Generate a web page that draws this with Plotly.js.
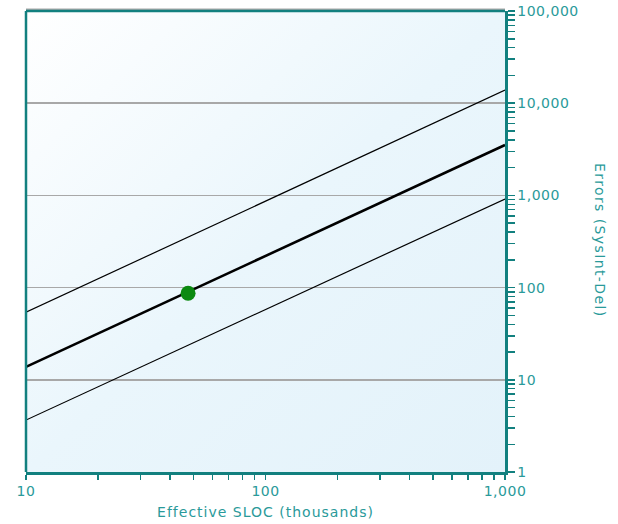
<!DOCTYPE html>
<html>
<head>
<meta charset="utf-8">
<script src="https://cdn.plot.ly/plotly-3.0.1.min.js"></script>
<style>
html,body{margin:0;padding:0;background:#fff;}
#chart{width:618px;height:524px;}
#chart .xtitle{letter-spacing:1px;}
#chart .annotation-text{letter-spacing:1.4px;}
#chart .ytick text{letter-spacing:0.5px;}
#chart .xtick text{letter-spacing:0.5px;}
</style>
</head>
<body>
<div id="chart"></div>
<script>
// ---- data ----
const lineX = [10, 1000];
const centerY = [13.8, 3520];
const upperY = [54, 13900];
const lowerY = [3.66, 914];
const pointX = [47.5];
const pointY = [87];
const yDecades = [1, 10, 100, 1000, 10000, 100000];
const yDecadeLabels = ["1", "10", "100", "1,000", "10,000", "100,000"];
const xDecades = [10, 100, 1000];
const xDecadeLabels = ["10", "100", "1,000"];
const titleText = "Errors (SysInt-Del) vs. Effective SLOC";
const xTitle = "Effective SLOC (thousands)";
const yTitle = "Errors (SysInt-Del)";

// build tick arrays (decades with labels, 2..9 blank)
function allTicks(decades, labels){
  const vals=[], txt=[];
  decades.forEach((d,i)=>{
    vals.push(d); txt.push(labels[i]);
    if(i<decades.length-1){ for(let k=2;k<=9;k++){vals.push(d*k); txt.push("");} }
  });
  return {vals, txt};
}
const yt = allTicks(yDecades, yDecadeLabels);
const xt = allTicks(xDecades, xDecadeLabels);

const teal = "#12807f";
const tealText = "#2a9a9a";
const font = "DejaVu Sans";

const grad = 'data:image/svg+xml;utf8,' + encodeURIComponent(
 '<svg xmlns="http://www.w3.org/2000/svg" width="100" height="100" preserveAspectRatio="none" viewBox="0 0 100 100">'+
 '<defs><linearGradient id="g" x1="0" y1="0" x2="1" y2="1"><stop offset="0" stop-color="#ffffff"/><stop offset="0.5" stop-color="#eaf6fc"/><stop offset="1" stop-color="#e3f2fa"/></linearGradient></defs>'+
 '<rect width="100" height="100" fill="url(#g)"/></svg>');

const traces = [
  {x: lineX, y: upperY, mode:'lines', line:{color:'#000', width:1.2}, hoverinfo:'skip'},
  {x: lineX, y: lowerY, mode:'lines', line:{color:'#000', width:1.2}, hoverinfo:'skip'},
  {x: lineX, y: centerY, mode:'lines', line:{color:'#000', width:2.6}, hoverinfo:'skip'},
  {x: pointX, y: pointY, mode:'markers', marker:{color:'#0b8a10', size:15}}
];

const layout = {
  width:618, height:524,
  margin:{l:26, r:113, t:11, b:52},
  paper_bgcolor:'#ffffff', plot_bgcolor:'rgba(0,0,0,0)',
  showlegend:false,
  font:{family:font, color:tealText, size:14},
  xaxis:{type:'log', range:[1,3], tickvals:xt.vals, ticktext:xt.txt,
    ticks:'outside', ticklen:5, tickwidth:1.5, tickcolor:teal,
    showline:true, linecolor:teal, linewidth:2.5, showgrid:false, zeroline:false,
    tickfont:{family:font, size:14, color:tealText},
    title:{text:xTitle, font:{family:font, size:14, color:tealText}, standoff:9}},
  yaxis:{type:'log', range:[0,5], side:'right', tickvals:yt.vals, ticktext:yt.txt,
    ticks:'outside', ticklen:7, tickwidth:1.5, tickcolor:teal,
    showline:true, linecolor:teal, linewidth:2.5, showgrid:false, zeroline:false,
    tickfont:{family:font, size:14, color:tealText},
    minor:{tickvals:yDecades, showgrid:true, gridcolor:'#a8a8a8', gridwidth:1.5, ticks:''}},
  images:[{source:grad, xref:'paper', yref:'paper', x:0, y:1, sizex:1, sizey:1, sizing:'stretch', layer:'below', xanchor:'left', yanchor:'top'}],
  shapes:[
    {type:'line', xref:'paper', yref:'paper', x0:0, x1:1, y0:1.004, y1:1.004, line:{color:'#a8a8a8', width:1.5}},
    {type:'line', xref:'paper', yref:'paper', x0:0, x1:1, y0:1, y1:1, line:{color:teal, width:2.5}},
    {type:'line', xref:'paper', yref:'paper', x0:0, x1:0, y0:0, y1:1, line:{color:teal, width:2.5}}
  ],
  annotations:[
    {text:titleText, xref:'paper', yref:'paper', x:0.15, y:1.017, xanchor:'left', yanchor:'bottom', showarrow:false, font:{family:font, size:15, color:tealText}},
    {text:yTitle, xref:'paper', yref:'paper', x:1.198, y:0.503, xanchor:'center', yanchor:'middle', textangle:90, showarrow:false, font:{family:font, size:14, color:tealText}}
  ]
};
Plotly.newPlot('chart', traces, layout, {displayModeBar:false, staticPlot:true});
</script>
</body>
</html>
